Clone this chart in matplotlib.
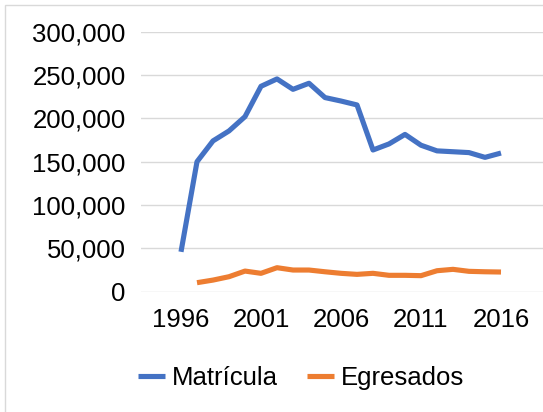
import matplotlib.pyplot as plt
from matplotlib.patches import Rectangle

plt.rcParams['font.family'] = ['Liberation Sans', 'DejaVu Sans']

years = list(range(1996, 2017))
matricula = [46000, 150000, 174000, 185500, 202000, 237000, 245500, 233500, 240500,
             224000, 220000, 215500, 163500, 170500, 181500, 169000, 162500, 161500,
             160500, 155000, 160000]
egresados_years = list(range(1997, 2017))
egresados = [10400, 13400, 17300, 23800, 21200, 27700, 25000, 25000, 23000, 21200,
             20000, 21200, 18900, 18900, 18500, 24200, 25800, 23500, 23000, 22700]
xticks = [1996, 2001, 2006, 2011, 2016]
yticks = [0, 50000, 100000, 150000, 200000, 250000, 300000]

fig = plt.figure(figsize=(5.43, 4.12), dpi=100)
ax = fig.add_axes([141/543, 120.3/412, 408/543, 260/412])

ax.plot(years, matricula, color='#4472C4', lw=3.7, solid_joinstyle='round',
        solid_capstyle='butt', label='Matrícula')
ax.plot(egresados_years, egresados, color='#ED7D31', lw=3.7, solid_joinstyle='round',
        solid_capstyle='butt', label='Egresados')

ax.set_xlim(1993.5, 2019)
ax.set_ylim(0, 300000)
ax.set_yticks(yticks)
ax.set_yticklabels([f'{v:,}' for v in yticks])
ax.set_xticks(xticks)
ax.set_xticklabels([str(y) for y in xticks])
ax.grid(axis='y', color='#D9D9D9', lw=1)
ax.set_axisbelow(True)
for s in ax.spines.values():
    s.set_visible(False)
ax.tick_params(length=0, labelsize=18.5, colors='#000000')
ax.tick_params(axis='y', pad=11)
ax.tick_params(axis='x', pad=12)

fig.legend(loc='center', bbox_to_anchor=(301/543, 1 - 378/412), ncol=2, frameon=False,
           fontsize=18.5, handlelength=1.05, handletextpad=0.27, columnspacing=1.15)

fig.add_artist(Rectangle((5/543, -0.1), 1.2, 1.1 - 5/412, transform=fig.transFigure,
                         fill=False, edgecolor='#D9D9D9', lw=1))

fig.savefig('out.png', dpi=100)
